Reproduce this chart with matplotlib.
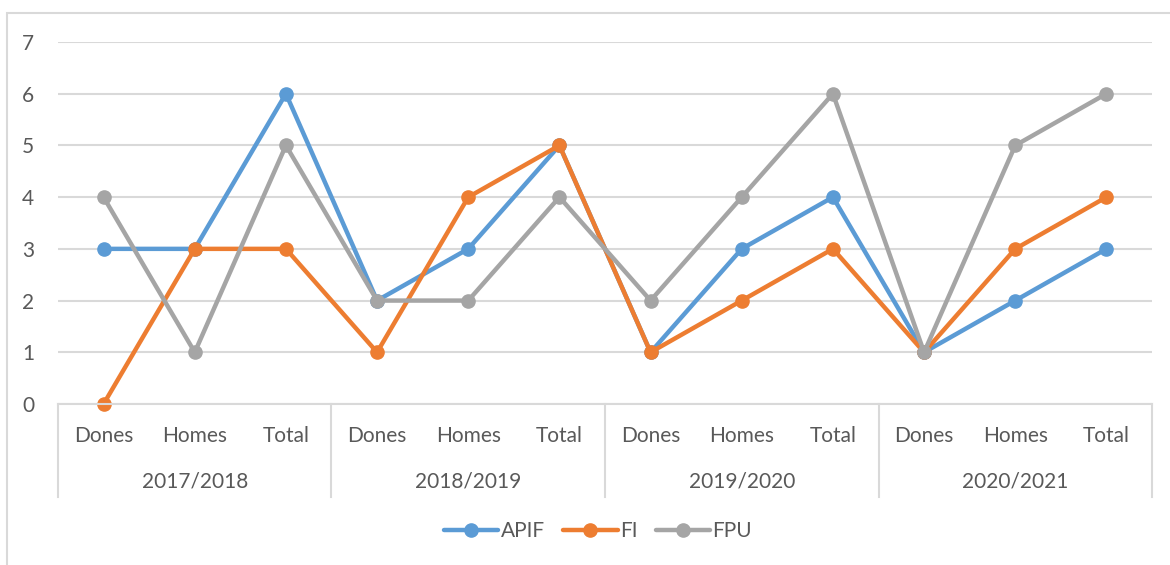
import matplotlib.pyplot as plt
from matplotlib.patches import Rectangle
from matplotlib.transforms import blended_transform_factory

plt.rcParams['font.family'] = ['Lato', 'DejaVu Sans']

# data
years = ["2017/2018", "2018/2019", "2019/2020", "2020/2021"]
kinds = ["Dones", "Homes", "Total"]
apif = [3, 3, 6, 2, 3, 5, 1, 3, 4, 1, 2, 3]
fi = [0, 3, 3, 1, 4, 5, 1, 2, 3, 1, 3, 4]
fpu = [4, 1, 5, 2, 2, 4, 2, 4, 6, 1, 5, 6]

series = [("APIF", apif, "#5B9BD5"), ("FI", fi, "#ED7D31"), ("FPU", fpu, "#A5A5A5")]
text_col = "#595959"
grid_col = "#D9D9D9"
fs = 15

fig = plt.figure(figsize=(11.7, 5.65), dpi=100)
ax = fig.add_axes([58 / 1170, 1 - 404 / 565, (1152 - 58) / 1170, (404 - 42) / 565])

# outer chart border (cut at right/bottom like the screenshot)
fig.patches.append(Rectangle((7 / 1170, -0.1), 1.2, 1 - 13 / 565 + 0.1,
                             transform=fig.transFigure, fill=False,
                             edgecolor=grid_col, linewidth=1.5))

x = list(range(len(apif)))
handles = []
for name, vals, col in series:
    h, = ax.plot(x, vals, color=col, linewidth=3.2, marker='o', markersize=9.5,
                 solid_capstyle='round', label=name, clip_on=False)
    handles.append(h)

ax.set_xlim(-0.5, len(x) - 0.5)
ax.set_ylim(0, 7)
ax.set_yticks(range(0, 8))
ax.yaxis.grid(True, color=grid_col, linewidth=1.5)
ax.set_axisbelow(True)
for s in ["top", "right", "left"]:
    ax.spines[s].set_visible(False)
ax.spines["bottom"].set_color(grid_col)
ax.spines["bottom"].set_linewidth(1.5)
ax.tick_params(axis='y', length=0, pad=17, labelsize=fs, labelcolor=text_col)

ax.set_xticks(x)
ax.set_xticklabels(kinds * len(years))
ax.tick_params(axis='x', length=0, pad=23, labelsize=fs, labelcolor=text_col)
for t in ax.get_xticklabels():
    t.set_verticalalignment('center')

trans = blended_transform_factory(ax.transData, ax.transAxes)
sep_bottom = -(497 - 404) / (404 - 42)
for i in range(len(years) + 1):
    ax.plot([i * 3 - 0.5] * 2, [0, sep_bottom], transform=trans, color=grid_col,
            linewidth=1.5, clip_on=False)
for i, yr in enumerate(years):
    ax.text(i * 3 + 1, -(481 - 404) / (404 - 42), yr, transform=trans,
            ha='center', va='center', fontsize=fs, color=text_col)

leg = fig.legend(handles=handles, loc='center', bbox_to_anchor=(598 / 1170, 1 - 531 / 565),
                 ncol=3, frameon=False, fontsize=fs, handlelength=2.6,
                 handletextpad=0.1, columnspacing=0.9)
for t in leg.get_texts():
    t.set_color(text_col)

fig.savefig("out.png", dpi=100)
